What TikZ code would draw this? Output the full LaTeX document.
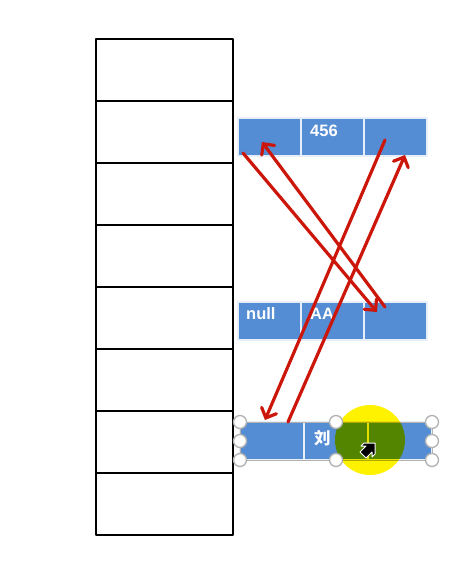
\documentclass[tikz,border=0pt]{standalone}
\usepackage{fontspec}
\setmainfont{Liberation Sans}
\newfontfamily\cjk{Noto Sans CJK SC}
\usetikzlibrary{positioning,arrows.meta}
\definecolor{cellblue}{RGB}{84,141,212}
\definecolor{refred}{RGB}{204,22,10}
\tikzset{
  slot/.style={draw=black,line width=1.3pt,minimum width=137pt,minimum height=62pt,inner sep=0pt,outer sep=0pt},
  cell/.style={fill=cellblue,draw=white!85!cellblue,line width=1.2pt,minimum width=63pt,minimum height=38pt,inner sep=0pt,outer sep=0pt},
  txt/.style={anchor=north west,inner sep=0pt,text=white,font=\bfseries\fontsize{16.5}{16.5}\selectfont},
  ref/.style={draw=refred,line width=3.2pt,line cap=round,-{Straight Barb[length=8pt,width=16pt,line cap=round]}},
  handle/.style={circle,draw=gray!60,fill=white,line width=1.3pt,minimum size=13pt,inner sep=0pt}
}
\begin{document}
\begin{tikzpicture}[x=1pt,y=-1pt,line join=round]
\useasboundingbox (0,0) rectangle (458,563);
\foreach \i in {1,...,8} \node[slot] (s\i) at (164.5,{8+62*\i}) {};
\node[cell] (ta) at (269.5,137) {};
\node[cell,right=0pt of ta] (tb) {};
\node[cell,right=0pt of tb] (tc) {};
\node[cell] (ma) at (269.5,321) {};
\node[cell,right=0pt of ma] (mb) {};
\node[cell,right=0pt of mb] (mc) {};
\node[cell,minimum width=64pt] (ba) at (272,441) {};
\node[cell,minimum width=64pt,right=0pt of ba] (bb) {};
\node[cell,minimum width=64pt,right=0pt of bb] (bc) {};
\draw[gray!60,line width=1pt] (ba.north west) rectangle (bc.south east);
\node[txt] (v456) at ([shift={(9,7)}]tb.north west) {456};
\node[txt] (vnull) at ([shift={(8,5)}]ma.north west) {null};
\node[txt] (vaa) at ([shift={(9,6)}]mb.north west) {AA};
\node[txt] (vliu) at ([shift={(10,8)}]bb.north west) {\cjk\bfseries 刘};
\draw[ref] ([shift={(5,-3)}]ta.south west) -- ([shift={(13,10)}]mc.north west);
\draw[ref] ([shift={(21,5)}]mc.north west) -- ([shift={(24,-14)}]ta.south west);
\draw[ref] ([shift={(21,22)}]tc.north west) -- ([shift={(25,-2)}]ba.north west);
\draw[ref] ([shift={(48,0)}]ba.north west) -- ([shift={(41,37)}]tc.north west);
\fill[yellow,blend mode=multiply] (370,440) circle (35pt);
\filldraw[black,draw=white,line width=1pt] (363,455) -- (366,458) -- (372,452) -- (372,457) -- (375,454) -- (375,443) -- (364,443) -- (361,446) -- (366,446) -- (360,452) -- cycle;
\foreach \a in {ba.north west,ba.west,ba.south west,bb.north,bb.south,bc.north east,bc.east,bc.south east}
  \node[handle] at (\a) {};
\end{tikzpicture}
\end{document}
